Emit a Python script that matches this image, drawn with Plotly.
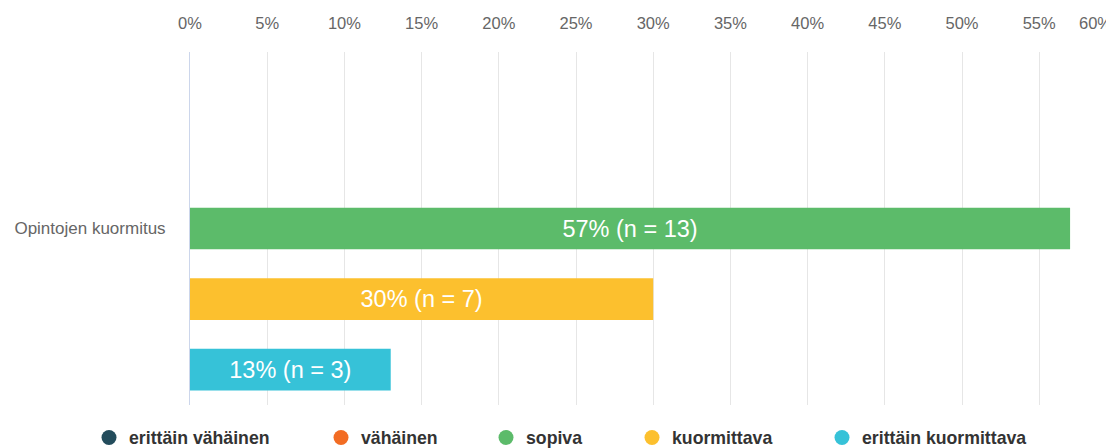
import plotly.graph_objects as go

# Data
category = ["Opintojen kuormitus"]
series_names = ["erittäin vähäinen", "vähäinen", "sopiva", "kuormittava", "erittäin kuormittava"]
percent_values = [0, 0, 57, 30, 13]
counts = [0, 0, 13, 7, 3]
colors = ["#234c5c", "#f26c23", "#5cbb6a", "#fcc02e", "#36c2d8"]
tick_values = [0, 5, 10, 15, 20, 25, 30, 35, 40, 45, 50, 55, 60]

W, H = 1106, 448
L, R, T, B = 190, 0, 52, 43
x_max = (W - L - R) / 15.44  # px per percent

# Legend placement (text start, px)
legend_text_x = [129, 361, 526, 672, 862]

FONT = "Liberation Sans, Arial, sans-serif"

fig = go.Figure()

for i, (name, val, n, col) in enumerate(zip(series_names, percent_values, counts, colors)):
    fig.add_bar(
        y=category,
        x=[val],
        orientation="h",
        name=name,
        marker=dict(color=col, line=dict(width=0)),
        text=[f"{val}% (n = {n})" if val > 0 else ""],
        textposition="inside",
        insidetextanchor="middle",
        textfont=dict(color="white", size=23.5, family=FONT),
        constraintext="none",
        showlegend=False,
        hoverinfo="skip",
    )
    # legend entry with round marker
    fig.add_scatter(
        x=[None],
        y=[None],
        mode="markers",
        name=name,
        marker=dict(color=col, size=15, symbol="circle"),
        showlegend=True,
        legend="legend" if i == 0 else f"legend{i + 1}",
    )

legends = {}
for i, tx in enumerate(legend_text_x):
    key = "legend" if i == 0 else f"legend{i + 1}"
    legends[key] = dict(
        xref="container",
        yref="container",
        x=(tx - 40) / W,
        xanchor="left",
        y=1 - 438 / H,
        yanchor="middle",
        orientation="h",
        font=dict(size=17.7, color="#333333", family=FONT, weight="bold"),
        bgcolor="rgba(0,0,0,0)",
        borderwidth=0,
        itemclick=False,
        itemdoubleclick=False,
    )

fig.update_layout(
    width=W,
    height=H,
    margin=dict(l=L, r=R, t=T, b=B),
    plot_bgcolor="white",
    paper_bgcolor="white",
    barmode="group",
    bargap=0,
    bargroupgap=0.41,
    font=dict(family=FONT, color="#666666"),
    **legends,
)

fig.update_xaxes(
    side="top",
    range=[0, x_max],
    tickvals=tick_values[:-1],
    ticktext=[f"{v}%" for v in tick_values[:-1]],
    showgrid=True,
    gridcolor="#e6e6e6",
    gridwidth=1,
    zeroline=False,
    showline=False,
    ticks="",
    ticklabelstandoff=19,
    tickfont=dict(size=16.5, color="#666666", family=FONT),
    fixedrange=True,
)

fig.update_yaxes(
    autorange="reversed",
    showgrid=False,
    showline=True,
    linecolor="#ccd6eb",
    linewidth=1,
    ticks="",
    ticklabelstandoff=20,
    tickfont=dict(size=17, color="#666666", family=FONT),
    fixedrange=True,
)

# last tick label (60%) is pushed inside the chart edge, as in the original
fig.add_annotation(
    xref="paper",
    yref="paper",
    x=1.0,
    xanchor="right",
    y=1,
    yshift=29,
    yanchor="middle",
    text=f"{tick_values[-1]}%",
    showarrow=False,
    font=dict(size=16.5, color="#666666", family=FONT),
    xshift=8,
)

fig.write_html(
    "out.html",
    config={"displayModeBar": False},
    post_script="document.body.style.margin='0';document.body.style.overflow='hidden';",
)
